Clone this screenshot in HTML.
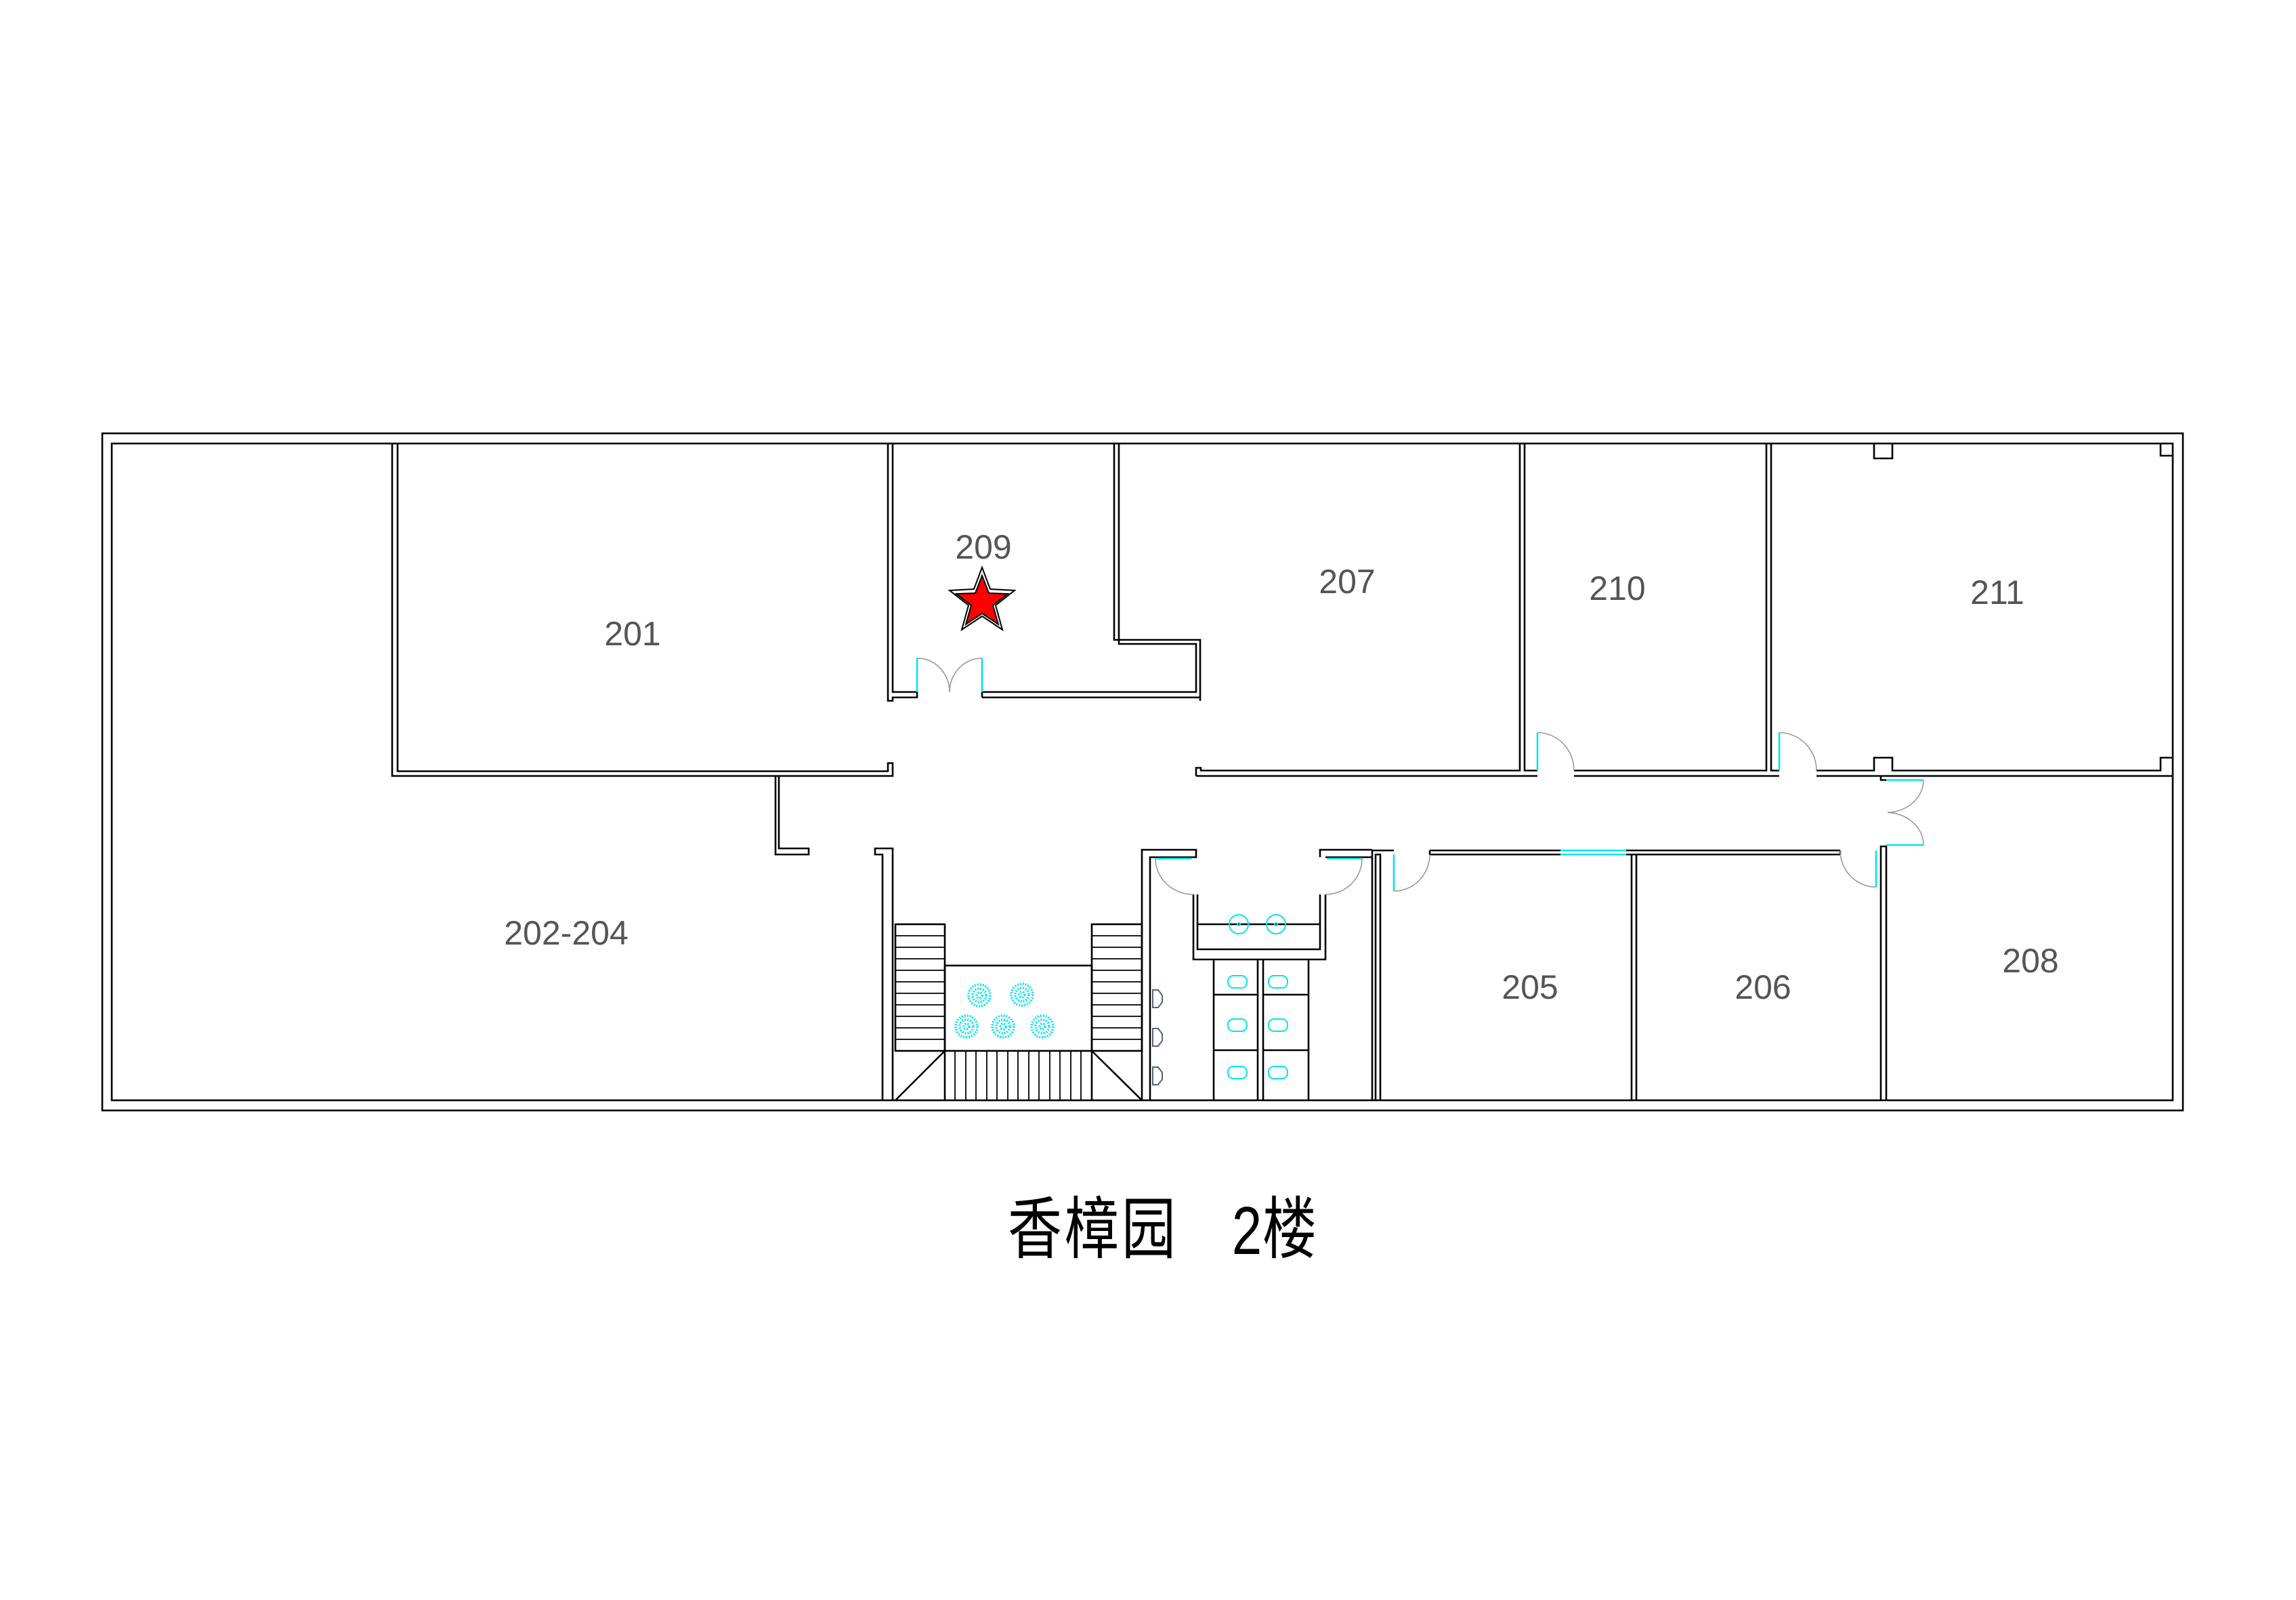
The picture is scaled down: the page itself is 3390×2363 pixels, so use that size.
<!DOCTYPE html>
<html><head><meta charset="utf-8"><style>html,body{margin:0;padding:0;background:#fff}svg{display:block}</style></head>
<body>
<svg width="3390" height="2363" viewBox="0 0 3390 2363" xmlns="http://www.w3.org/2000/svg">
<rect width="3390" height="2363" fill="#fff"/>
<g fill="none" stroke="#000" stroke-width="2.6">
<rect x="151" y="640" width="3072" height="1000"/>
<rect x="165" y="655" width="3043" height="970"/>
<polyline points="579,655 579,1146 1318,1146 1318,1127 1311,1127 1311,1139 587,1139 587,655"/>
<polyline points="1311,655 1311,1035 1318,1035 1318,1030 1354,1030 1354,1022 1318,1022 1318,655"/>
<polyline points="1450,1030 1450,1022 1766,1022 1766,951 1652,951 1652,655"/>
<polyline points="1450,1030 1772,1030 1772,1035 1772,945 1645,945 1645,655"/>
<polyline points="1145,1146 1145,1262 1194,1262 1194,1253 1150,1253 1150,1146"/>
<polyline points="1766,1146 1766,1134 1773,1134 1773,1138 2244,1138 2244,655"/>
<polyline points="1766,1146 2270,1146"/>
<polyline points="2251,655 2251,1138 2270,1138"/>
<polyline points="2324,1138 2608,1138 2608,655"/>
<polyline points="2324,1146 2627,1146"/>
<polyline points="2615,655 2615,1138 2627,1138"/>
<polyline points="2682,1138 2767,1138 2767,1119 2794,1119 2794,1138 3190,1138 3190,1119 3208,1119"/>
<polyline points="2682,1146 3208,1146"/>
<polyline points="2767,655 2767,677 2794,677 2794,655"/>
<polyline points="3190,655 3190,673 3208,673"/>
<polyline points="2777,1146 2777,1152 2785,1152"/>
<polyline points="2777,1625 2777,1250 2785,1250 2785,1625"/>
<polyline points="2026,1625 2026,1256 2058,1256"/>
<polyline points="2031,1625 2031,1262 2038,1262 2038,1625"/>
<line x1="2111" y1="1256" x2="2304" y2="1256"/><line x1="2111" y1="1262" x2="2304" y2="1262"/><line x1="2111" y1="1256" x2="2111" y2="1262"/>
<line x1="2401" y1="1256" x2="2717" y2="1256"/><line x1="2401" y1="1262" x2="2717" y2="1262"/><line x1="2717" y1="1256" x2="2717" y2="1262"/>
<line x1="2409" y1="1262" x2="2409" y2="1625"/><line x1="2416" y1="1262" x2="2416" y2="1625"/>
<polyline points="1318,1625 1318,1253 1292,1253 1292,1262 1303,1262 1303,1625"/>
<rect x="1322" y="1365" width="73" height="187"/>
<rect x="1612" y="1365" width="74" height="187"/>
<rect x="1395" y="1426" width="217" height="126"/>
<line x1="1395" y1="1552" x2="1322" y2="1625"/><line x1="1612" y1="1552" x2="1686" y2="1625"/>
<line x1="1395" y1="1552" x2="1395" y2="1625"/><line x1="1612" y1="1552" x2="1612" y2="1625"/>
</g>
<g stroke="#000" stroke-width="1.8">
<line x1="1322" y1="1382" x2="1395" y2="1382"/><line x1="1322" y1="1399" x2="1395" y2="1399"/><line x1="1322" y1="1416" x2="1395" y2="1416"/><line x1="1322" y1="1433" x2="1395" y2="1433"/><line x1="1322" y1="1450" x2="1395" y2="1450"/><line x1="1322" y1="1467" x2="1395" y2="1467"/><line x1="1322" y1="1484" x2="1395" y2="1484"/><line x1="1322" y1="1501" x2="1395" y2="1501"/><line x1="1322" y1="1518" x2="1395" y2="1518"/><line x1="1322" y1="1535" x2="1395" y2="1535"/>
<line x1="1612" y1="1382" x2="1686" y2="1382"/><line x1="1612" y1="1399" x2="1686" y2="1399"/><line x1="1612" y1="1416" x2="1686" y2="1416"/><line x1="1612" y1="1433" x2="1686" y2="1433"/><line x1="1612" y1="1450" x2="1686" y2="1450"/><line x1="1612" y1="1467" x2="1686" y2="1467"/><line x1="1612" y1="1484" x2="1686" y2="1484"/><line x1="1612" y1="1501" x2="1686" y2="1501"/><line x1="1612" y1="1518" x2="1686" y2="1518"/><line x1="1612" y1="1535" x2="1686" y2="1535"/>
<line x1="1410" y1="1552" x2="1410" y2="1625"/><line x1="1426" y1="1552" x2="1426" y2="1625"/><line x1="1441" y1="1552" x2="1441" y2="1625"/><line x1="1457" y1="1552" x2="1457" y2="1625"/><line x1="1472" y1="1552" x2="1472" y2="1625"/><line x1="1488" y1="1552" x2="1488" y2="1625"/><line x1="1503" y1="1552" x2="1503" y2="1625"/><line x1="1519" y1="1552" x2="1519" y2="1625"/><line x1="1534" y1="1552" x2="1534" y2="1625"/><line x1="1550" y1="1552" x2="1550" y2="1625"/><line x1="1565" y1="1552" x2="1565" y2="1625"/><line x1="1581" y1="1552" x2="1581" y2="1625"/><line x1="1596" y1="1552" x2="1596" y2="1625"/>
</g>
<g fill="none" stroke="#000" stroke-width="2.6">
<polyline points="1686,1625 1686,1255 1766,1255 1766,1266 1698,1266 1698,1625"/>
<polyline points="1762,1321 1762,1417 1957,1417 1957,1321"/>
<polyline points="1768,1321 1768,1402 1949,1402 1949,1321"/>
<line x1="1768" y1="1365" x2="1949" y2="1365"/>
<polyline points="1957,1266 2026,1266"/>
<polyline points="1949,1266 1949,1255 2026,1255"/>
<line x1="1792" y1="1417" x2="1792" y2="1625"/><line x1="1857" y1="1417" x2="1857" y2="1625"/><line x1="1865" y1="1417" x2="1865" y2="1625"/><line x1="1932" y1="1417" x2="1932" y2="1625"/>
<line x1="1792" y1="1469" x2="1857" y2="1469"/><line x1="1865" y1="1469" x2="1932" y2="1469"/>
<line x1="1792" y1="1551" x2="1857" y2="1551"/><line x1="1865" y1="1551" x2="1932" y2="1551"/>
</g>
<g fill="none" stroke="#00e5ee" stroke-width="2.6">
<line x1="1354" y1="972" x2="1354" y2="1022"/><line x1="1450" y1="972" x2="1450" y2="1022"/>
<line x1="2270" y1="1082" x2="2270" y2="1138"/><line x1="2627" y1="1082" x2="2627" y2="1138"/>
<line x1="2785" y1="1152" x2="2840" y2="1152"/><line x1="2785" y1="1248" x2="2840" y2="1248"/>
<line x1="2058" y1="1262" x2="2058" y2="1316"/><line x1="2770" y1="1256" x2="2770" y2="1310"/>
<line x1="2304" y1="1256" x2="2401" y2="1256"/><line x1="2304" y1="1262" x2="2401" y2="1262"/>
<line x1="1706" y1="1268" x2="1760" y2="1268"/><line x1="1959" y1="1268" x2="2011" y2="1268"/>
</g>
<g fill="none" stroke="#999" stroke-width="1.6">
<path d="M1354,972 A48,50 0 0 1 1402,1022"/><path d="M1450,972 A48,50 0 0 0 1402,1022"/>
<path d="M2270,1082 A54,56 0 0 1 2324,1138"/><path d="M2627,1082 A55,56 0 0 1 2682,1138"/>
<path d="M2840,1152 A55,48 0 0 1 2787,1200"/><path d="M2840,1248 A55,48 0 0 0 2787,1200"/>
<path d="M2058,1316 A53,54 0 0 0 2111,1262"/><path d="M2717,1256 A53,54 0 0 0 2770,1310"/>
<path d="M1706,1268 A56,53 0 0 0 1762,1321"/><path d="M2011,1268 A54,53 0 0 1 1957,1321"/>
</g>
<g fill="none" stroke="#00e5ee" stroke-width="2">
<circle cx="1829" cy="1365" r="14"/><circle cx="1884" cy="1365" r="14"/>
<circle cx="1829" cy="1365" r="2"/><circle cx="1884" cy="1365" r="2"/>
<rect x="1813" y="1441" width="28" height="18" rx="8"/><rect x="1873" y="1441" width="28" height="18" rx="8"/>
<rect x="1813" y="1505" width="28" height="18" rx="8"/><rect x="1873" y="1505" width="28" height="18" rx="8"/>
<rect x="1813" y="1575" width="28" height="18" rx="8"/><rect x="1873" y="1575" width="28" height="18" rx="8"/>
</g>
<g fill="none" stroke="#567" stroke-width="2">
<path d="M1702,1462 l8,0 l6,8 l0,10 l-6,8 l-8,0 z"/><path d="M1702,1519 l8,0 l6,8 l0,10 l-6,8 l-8,0 z"/><path d="M1702,1576 l8,0 l6,8 l0,10 l-6,8 l-8,0 z"/>
</g>
<g fill="none" stroke="#00e5ee" stroke-width="3.5" stroke-dasharray="2 2">
<circle cx="1446" cy="1470" r="16"/><circle cx="1509" cy="1469" r="16"/><circle cx="1427" cy="1516" r="16"/><circle cx="1481" cy="1516" r="16"/><circle cx="1539" cy="1516" r="16"/>
<circle cx="1446" cy="1470" r="10"/><circle cx="1509" cy="1469" r="10"/><circle cx="1427" cy="1516" r="10"/><circle cx="1481" cy="1516" r="10"/><circle cx="1539" cy="1516" r="10"/>
<circle cx="1446" cy="1470" r="4"/><circle cx="1509" cy="1469" r="4"/><circle cx="1427" cy="1516" r="4"/><circle cx="1481" cy="1516" r="4"/><circle cx="1539" cy="1516" r="4"/>
</g>
<polygon points="1450,838 1462,870 1498,872 1470,894 1480,930 1450,910 1420,930 1430,894 1402,872 1438,870" fill="none" stroke="#000" stroke-width="2"/>
<polygon points="1450,850 1460,876 1488,877 1466,894 1474,922 1450,906 1426,922 1434,894 1412,877 1440,876" fill="#f00" stroke="#000" stroke-width="2"/>
<g font-family="Liberation Sans, sans-serif" font-size="50" fill="#555" font-weight="300" text-anchor="middle">
<text x="1452" y="825">209</text>
<text x="934" y="953">201</text>
<text x="836" y="1395">202-204</text>
<text x="1989" y="876">207</text>
<text x="2388" y="886">210</text>
<text x="2949" y="892">211</text>
<text x="2259" y="1475">205</text>
<text x="2603" y="1475">206</text>
<text x="2998" y="1436">208</text>
</g>
<g font-family="Liberation Sans, 'Noto Sans CJK SC', sans-serif" font-size="100" fill="#000" text-anchor="middle">
<text transform="translate(1528,1850) scale(0.8,1)">香</text>
<text transform="translate(1612,1850) scale(0.8,1)">樟</text>
<text transform="translate(1696,1850) scale(0.8,1)">园</text>
<text transform="translate(1841,1852) scale(0.8,1)">2</text>
<text transform="translate(1904,1850) scale(0.8,1)">楼</text>
</g>
</svg>
</body></html>
